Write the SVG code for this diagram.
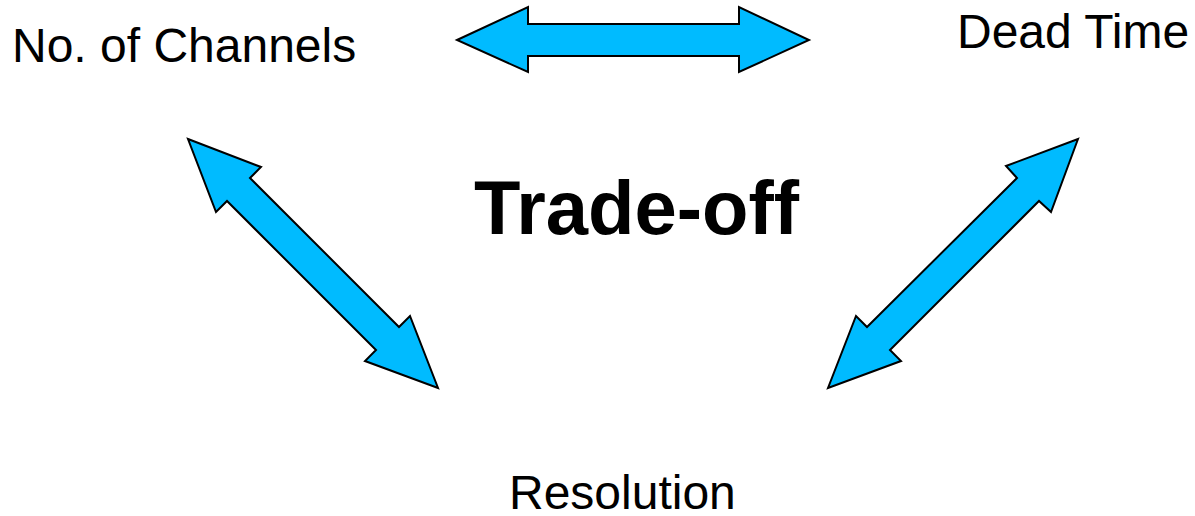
<svg xmlns="http://www.w3.org/2000/svg" width="1195" height="516" viewBox="0 0 1195 516">
<style>
.lbl{font-family:"Liberation Sans",Arial,sans-serif;font-size:48px;fill:#000}
.title{font-family:"Liberation Sans",Arial,sans-serif;font-size:76px;font-weight:bold;fill:#000}
.arrow{fill:#00BBFF;stroke:#000;stroke-width:2;stroke-linejoin:miter}
</style>
<rect width="1195" height="516" fill="#fff"/>
<g id="node-channels"><text class="lbl" x="12" y="62">No. of Channels</text></g>
<g id="node-deadtime"><text class="lbl" x="957" y="48">Dead Time</text></g>
<g id="node-resolution"><text class="lbl" x="509" y="509">Resolution</text></g>
<g id="node-tradeoff"><text class="title" x="474" y="234">Trade-off</text></g>
<g id="connectors">
<polygon class="arrow" points="457,40 528,7 528,24 739,24 739,7 809,40 739,72 739,56 528,56 528,72"/>
<polygon class="arrow" points="188,139 261,167 250,178 399,327 410,316 438,388 365,361 376,350 227,201 216,212"/>
<polygon class="arrow" points="1078,139 1051,212 1039,201 890,350 901,361 828,388 856,316 867,327 1017,178 1006,166"/>
</g>
</svg>
